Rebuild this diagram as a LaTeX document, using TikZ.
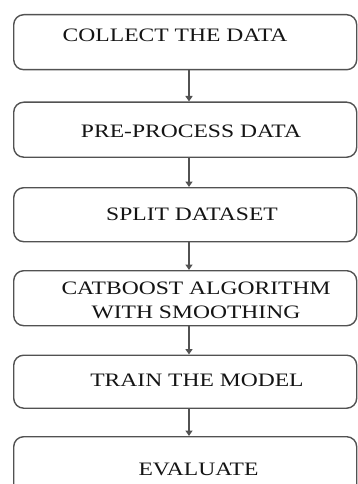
\documentclass[tikz,border=0pt]{standalone}
\usepackage{fontspec}
\setmainfont{Liberation Serif}[FakeStretch=1.24]
\usetikzlibrary{arrows.meta}
\begin{document}
\begin{tikzpicture}[x=1pt,y=1pt,
  stepbox/.style={draw=black!68, line width=1.4pt, rounded corners=10pt,
    inner sep=0pt, anchor=north west, minimum width=343pt},
  steptext/.style={inner sep=0pt, align=center, text=black!92,
    font=\fontsize{19}{24}\selectfont},
  flow/.style={draw=black!68, line width=1.4pt,
    -{Triangle[width=7pt,length=5.5pt]}}]
\useasboundingbox (0,0) rectangle (357,-484);
% process boxes
\node[stepbox, minimum height=55pt] (b1) at (13,-14) {};
\node[stepbox, minimum height=55pt] (b2) at (13,-101.5) {};
\node[stepbox, minimum height=54pt] (b3) at (13,-187) {};
\node[stepbox, minimum height=55pt] (b4) at (13,-270) {};
\node[stepbox, minimum height=53pt] (b5) at (13,-354.5) {};
\node[stepbox, minimum height=60pt] (b6) at (13,-436) {};
% captions
\node[steptext] (t1) at (175,-35) {COLLECT THE DATA};
\node[steptext] (t2) at (191,-131.5) {PRE-PROCESS DATA};
\node[steptext] (t3) at (192,-214) {SPLIT DATASET};
\node[steptext] (t4) at (196,-300.5) {CATBOOST ALGORITHM\\ WITH SMOOTHING};
\node[steptext] (t5) at (197,-380) {TRAIN THE MODEL};
\node[steptext] (t6) at (198.5,-469) {EVALUATE};
% connectors
\foreach \a/\b in {b1/b2,b2/b3,b3/b4,b4/b5,b5/b6}
  \draw[flow] (\a.south -| 189,0) -- (\b.north -| 189,0);
\end{tikzpicture}
\end{document}
